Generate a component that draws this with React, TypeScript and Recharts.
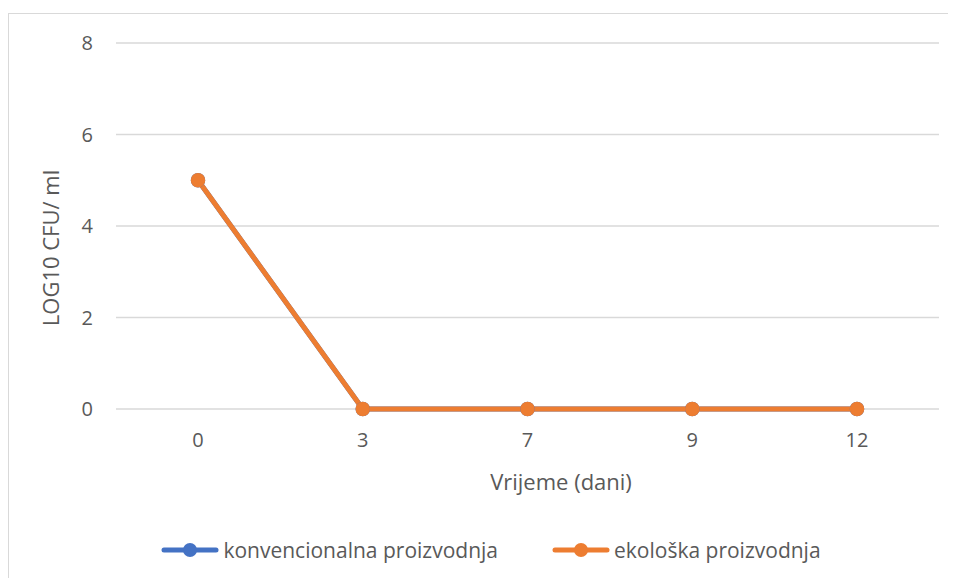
import { LineChart, Line, XAxis, YAxis, CartesianGrid, Legend, Label } from 'recharts'

const days = ['0', '3', '7', '9', '12']
const konvencionalna = [5, 0, 0, 0, 0]
const ekoloska = [5, 0, 0, 0, 0]
const yTicks = [0, 2, 4, 6, 8]

const SERIES = [
    { key: 'konv', name: 'konvencionalna proizvodnja', color: '#4472C4' },
    { key: 'eko', name: 'ekološka proizvodnja', color: '#ED7D31' },
]

const FONT = '"Open Sans", "Segoe UI", sans-serif'
const TEXT = '#595959'

const data = days.map((d, i) => ({ day: d, konv: konvencionalna[i], eko: ekoloska[i] }))

function LegendContent() {
    return (
        <div style={{ display: 'flex', justifyContent: 'center', alignItems: 'center', height: 30, paddingLeft: 17, fontFamily: FONT, fontSize: 21, color: TEXT }}>
            {SERIES.map((s, i) => (
                <div key={s.key} style={{ display: 'flex', alignItems: 'center', marginLeft: i ? 54 : 0 }}>
                    <svg width={58} height={16} style={{ marginRight: 4 }}>
                        <line x1={3} y1={8} x2={55} y2={8} stroke={s.color} strokeWidth={5} strokeLinecap="round" />
                        <circle cx={29} cy={8} r={7} fill={s.color} />
                    </svg>
                    <span>{s.name}</span>
                </div>
            ))}
        </div>
    )
}

export default function App() {
    return (
        <div style={{ marginTop: 5, width: 947, height: 564, borderTop: '1px solid #d9d9d9', borderLeft: '1px solid #d9d9d9', background: '#fff' }}>
            <LineChart width={947} height={564} data={data} margin={{ top: 29, right: 17, left: 0, bottom: 13 }}>
                <CartesianGrid vertical={false} stroke="#d9d9d9" strokeWidth={1.5} />
                <XAxis
                    dataKey="day"
                    axisLine={false}
                    tickLine={false}
                    tickSize={0}
                    tickMargin={24}
                    height={126}
                    padding={{ left: 82, right: 82 }}
                    tick={{ fill: TEXT, fontSize: 20, fontFamily: FONT }}
                >
                    <Label
                        content={() => (
                            <text x={552} y={467} textAnchor="middle" dominantBaseline="central" fill={TEXT} fontSize={22} fontFamily={FONT}>
                                Vrijeme (dani)
                            </text>
                        )}
                    />
                </XAxis>
                <YAxis
                    domain={[0, 8]}
                    ticks={yTicks}
                    axisLine={false}
                    tickLine={false}
                    tickSize={0}
                    tickMargin={23}
                    width={107}
                    tick={{ fill: TEXT, fontSize: 20, fontFamily: FONT }}
                >
                    <Label
                        content={() => (
                            <text x={41} y={234} transform="rotate(-90 41 234)" textAnchor="middle" dominantBaseline="central" fill={TEXT} fontSize={22} fontFamily={FONT}>
                                LOG10 CFU/ ml
                            </text>
                        )}
                    />
                </YAxis>
                <Legend verticalAlign="bottom" wrapperStyle={{ left: 0, width: 947 }} content={<LegendContent />} />
                {SERIES.map((s) => (
                    <Line
                        key={s.key}
                        dataKey={s.key}
                        name={s.name}
                        stroke={s.color}
                        strokeWidth={5}
                        dot={{ r: 6.5, fill: s.color, stroke: s.color, strokeWidth: 1.5 }}
                        isAnimationActive={false}
                    />
                ))}
            </LineChart>
        </div>
    )
}
